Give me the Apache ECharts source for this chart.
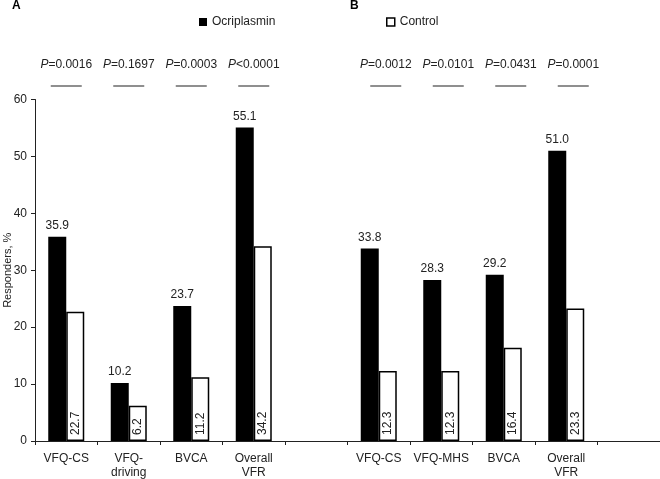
<!DOCTYPE html>
<html>
<head>
<meta charset="utf-8">
<script src="https://cdn.jsdelivr.net/npm/echarts@6/dist/echarts.min.js"></script>
<style>html,body{margin:0;padding:0;background:#fff}#c{width:660px;height:479px}</style>
</head>
<body>
<div id="c"></div>
<script>
const categories = ['VFQ-CS', 'VFQ-\ndriving', 'BVCA', 'Overall\nVFR', '', 'VFQ-CS', 'VFQ-MHS', 'BVCA', 'Overall\nVFR', ''];
const ocriplasmin = [35.9, 10.2, 23.7, 55.1, null, 33.8, 28.3, 29.2, 51.0, null];
const control = [22.7, 6.2, 11.2, 34.2, null, 12.3, 12.3, 16.4, 23.3, null];
const pCategories = [0, 1, 2, 3, 5, 6, 7, 8];
const pTexts = ['=0.0016', '=0.1697', '=0.0003', '<0.0001', '=0.0012', '=0.0101', '=0.0431', '=0.0001'];
const yTicks = [0, 10, 20, 30, 40, 50, 60];

const FONT = 'Liberation Sans, Arial, sans-serif';
const chart = echarts.init(document.getElementById('c'));
chart.setOption({
  animation: false,
  textStyle: { fontFamily: FONT },
  title: [
    { text: 'A', left: 12, top: 0, padding: 0, textStyle: { fontSize: 12, fontWeight: 'bold', color: '#000', fontFamily: FONT } },
    { text: 'B', left: 350, top: 0, padding: 0, textStyle: { fontSize: 12, fontWeight: 'bold', color: '#000', fontFamily: FONT } }
  ],
  legend: [
    { data: ['Ocriplasmin'], left: 199, top: 16, padding: 0, icon: 'rect', itemWidth: 8, itemHeight: 8,
      textStyle: { fontSize: 12, color: '#222', fontFamily: FONT } },
    { data: ['Control'], left: 386, top: 16, padding: 0, icon: 'rect', itemWidth: 8, itemHeight: 8,
      itemStyle: { borderWidth: 1.5, borderColor: '#000', color: '#fff' },
      textStyle: { fontSize: 12, color: '#222', fontFamily: FONT } }
  ],
  grid: { left: 35, right: 0, top: 99.5, bottom: 38, containLabel: false, outerBoundsMode: 'none' },
  xAxis: {
    type: 'category',
    data: categories,
    axisLine: { lineStyle: { color: '#222', width: 1 } },
    axisTick: { show: true, alignWithLabel: false, length: 4, lineStyle: { color: '#222' } },
    axisLabel: { interval: 0, margin: 11, fontSize: 12, color: '#222', lineHeight: 14, fontFamily: FONT }
  },
  yAxis: {
    type: 'value',
    min: 0, max: 60, interval: 10,
    name: 'Responders, %',
    nameLocation: 'middle',
    nameGap: 22,
    nameMoveOverlap: false,
    nameTextStyle: { fontSize: 11, color: '#222', fontFamily: FONT },
    axisLine: { show: true, lineStyle: { color: '#222', width: 1 } },
    axisTick: { show: true, length: 4, lineStyle: { color: '#222' } },
    splitLine: { show: false },
    axisLabel: { fontSize: 12, color: '#222', margin: 8, fontFamily: FONT,
      formatter: v => yTicks.includes(v) ? String(v) : '' }
  },
  series: [
    {
      name: 'Ocriplasmin', type: 'bar', data: ocriplasmin,
      barWidth: 18, barGap: '0%',
      itemStyle: { color: '#000' },
      label: { show: true, position: 'top', distance: 5, fontSize: 12, color: '#222', fontFamily: FONT,
        formatter: p => p.value == null ? '' : Number(p.value).toFixed(1) }
    },
    {
      name: 'Control', type: 'bar', data: control,
      barWidth: 18, barGap: '0%',
      itemStyle: { color: '#fff', borderColor: '#000', borderWidth: 1.5 },
      label: { show: true, position: 'insideBottom', rotate: 90, align: 'left', verticalAlign: 'middle',
        distance: 6, fontSize: 12, color: '#222', fontFamily: FONT,
        formatter: p => p.value == null ? '' : Number(p.value).toFixed(1) }
    },
    {
      name: 'pvalues', type: 'custom', clip: false, silent: true,
      data: pCategories.map(c => [c, 60]),
      encode: { x: 0, y: 1 },
      renderItem: function (params, api) {
        const pt = api.coord([api.value(0), api.value(1)]);
        const off = api.value(0) >= 5 ? 7 : 0;
        const txt = pTexts[params.dataIndex];
        return {
          type: 'group',
          children: [
            { type: 'text', x: pt[0] + off, y: pt[1] - 34.5,
              style: { text: '{i|P}' + txt, fontSize: 12, fontFamily: FONT, fill: '#222',
                align: 'center', verticalAlign: 'middle',
                rich: { i: { fontStyle: 'italic', fontSize: 12, fontFamily: FONT, fill: '#222' } } } },
            { type: 'line', shape: { x1: pt[0] + off - 15.5, y1: pt[1] - 13.5, x2: pt[0] + off + 15.5, y2: pt[1] - 13.5 },
              style: { stroke: '#444', lineWidth: 1.2 } }
          ]
        };
      }
    }
  ]
});
</script>
</body>
</html>
